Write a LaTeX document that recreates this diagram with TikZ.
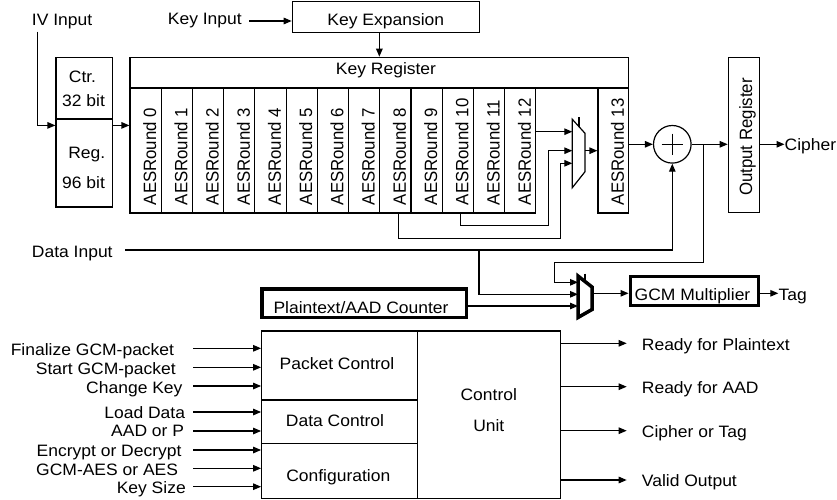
\documentclass[tikz,border=0pt]{standalone}
\usepackage{fontspec}
\setmainfont{Liberation Sans}
\usetikzlibrary{arrows.meta,calc,fit}
\begin{document}
\begin{tikzpicture}[x=1pt,y=-1pt,
  ln/.style={line width=1.2pt},
  arr/.style={line width=1.2pt,-{Triangle[length=8pt,width=6.5pt]}},
  box/.style={draw,line width=1.2pt,inner sep=0pt},
  tbox/.style={draw,line width=3.5pt,inner sep=0pt},
  hid/.style={inner sep=0pt,outer sep=0pt},
  txt/.style={inner sep=0pt,font=\fontsize{16.5}{19}\selectfont,xscale=1.06},
  rtxt/.style={inner sep=0pt,font=\fontsize{16.8}{19}\selectfont,xscale=1.06,rotate=90,anchor=base west}]
\useasboundingbox (0,0) rectangle (837,500);

% ---------- top part ----------
\node[txt,anchor=base west] (ivin) at (31.7,26) {IV Input};
\node[txt,anchor=east] (keyin) at (242,21) {Key Input};
\node[box,fit={(292.3,1.7)(479.3,32.3)}] (kexp) {};
\node[txt,anchor=base] (kexpt) at (385.8,26) {Key Expansion};

\node[box,fit={(56,57.3)(112.3,119)}] (ctr) {};
\node[box,fit={(56,119)(112.3,207)}] (reg) {};
\node[txt,anchor=base] (ctrt) at (82.5,82.3) {Ctr.};
\node[txt,anchor=base] (ctrb) at (83.5,106.7) {32 bit};
\node[txt,anchor=base] (regt) at (86.8,158.3) {Reg.};
\node[txt,anchor=base] (regb) at (83.5,188.3) {96 bit};

\node[box,fit={(130,57.3)(628.7,88)}] (keyreg) {};
\node[txt,anchor=base] (keyregt) at (386,75) {Key Register};

\foreach \i in {0,...,12}{
  \node[box,fit={({130+31.22*\i},88)({130+31.22*(\i+1)},213)}] (r\i) {};
  \node[rtxt] (t\i) at ({130+31.22*(\i+0.5)+10.5},205.3) {AESRound \i};
}
\node[box,fit={(598,88)(628.7,213)}] (r13) {};
\node[rtxt] (t13) at (623.8,205.3) {AESRound 13};

% upper mux
\node[hid,fit={(572.3,119.3)(585,187.7)}] (m1) {};
\draw[ln] (m1.north west) -- ($(m1.north east)+(0,14)$) -- ($(m1.south east)+(0,-16)$) -- (m1.south west) -- cycle;
\draw[ln] ($(m1.north west)+(6.7,-2)$) -- ($(m1.north west)+(6.7,7.4)$);
\coordinate (m1a) at ($(m1.north west)+(0,12.4)$);
\coordinate (m1b) at ($(m1.north west)+(0,31.4)$);
\coordinate (m1c) at ($(m1.north west)+(0,44)$);
\coordinate (m1o) at ($(m1.north east)+(0,31.4)$);

\node[draw,circle,line width=1.2pt,minimum size=37.6pt,inner sep=0pt] (xor) at (672.3,144.3) {};
\draw[line width=1pt] ($(xor.center)+(-10.8,0)$) -- ($(xor.center)+(10.8,0)$);
\draw[line width=1pt] ($(xor.center)+(0,-10.8)$) -- ($(xor.center)+(0,10.8)$);

\node[box,fit={(728.3,57.3)(759.3,212.7)}] (outreg) {};
\node[rtxt,anchor=base] (outregt) at (752,137) {Output Register};
\node[txt,anchor=base west] (cipher) at (784.5,150.7) {Cipher};

% connectors top
\draw[arr] ($(ivin.south west)+(5.5,2)$) |- ($(reg.north west)+(0,7)$);
\draw[arr] ($(reg.north east)+(0,7)$) -- ($(r0.north west)+(0,38)$);
\draw[arr] ($(keyin.east)+(7,0)$) -- (keyin.east -| kexp.west);
\draw[arr] (kexp.south -| keyreg.north) -- (keyreg.north);
\draw[arr] (m1a -| r12.east) -- (m1a);
\draw[arr] ($(r10.south)+(3,0)$) -- ++(0,12) -| ($(m1b)+(-24,0)$) -- (m1b);
\draw[arr] ($(r8.south)+(3,0)$) -- ++(0,24.7) -| ($(m1c)+(-11.6,0)$) -- (m1c);
\draw[arr] (m1o) -- (m1o -| r13.west);
\draw[arr] (xor.west -| r13.east) -- (xor.west);
\draw[arr] (xor.east) -- (xor.east -| outreg.west);
\draw[arr] (xor.east -| outreg.east) -- (xor.east -| cipher.west);

% ---------- middle part ----------
\node[txt,anchor=base west] (datain) at (31.7,257.3) {Data Input};
\coordinate (dstart) at (125,250);
\coordinate (dbr) at (479,250);
\coordinate (cbr) at ($(xor.east)+(12,0)$);

\node[hid,fit={(578,276)(592,317.5)}] (m2) {};
\draw[line width=3.5pt,line join=miter] (m2.north west) -- ($(m2.north east)+(0,11)$) -- ($(m2.south east)+(0,-8)$) -- (m2.south west) -- cycle;
\draw[line width=2pt] ($(m2.north west)+(7,-2.5)$) -- ($(m2.north west)+(7,5)$);
\coordinate (m2a) at ($(m2.north west)+(0,6.3)$);
\coordinate (m2b) at ($(m2.north west)+(0,18.3)$);
\coordinate (m2c) at ($(m2.north west)+(0,30)$);
\coordinate (m2o) at ($(m2.north east)+(0,17.3)$);

\node[tbox,fit={(262,289)(466.5,317.5)}] (cnt) {};
\node[txt,anchor=base] (cntt) at (361,313.3) {Plaintext/AAD Counter};
\node[tbox,fit={(630.3,276.3)(758.7,305.3)}] (gcm) {};
\node[txt,anchor=base] (gcmt) at (692.5,300) {GCM Multiplier};
\node[txt,anchor=base west] (tag) at (778.3,300) {Tag};

\draw[arr] (dstart) -| (xor.south);
\draw[arr] (dbr) |- (m2b);
\draw[arr] (cbr) -- ++(0,118) -| ($(m2a)+(-23.7,0)$) -- (m2a);
\draw[arr] (m2c -| cnt.east) -- (m2c);
\draw[arr] (m2o) -- (m2o -| gcm.west);
\draw[arr] (m2o -| gcm.east) -- (m2o -| tag.west);

% ---------- control unit ----------
\node[box,fit={(261.7,331)(417.5,400)}] (pc) {};
\node[box,fit={(261.7,400)(417.5,443.3)}] (dc) {};
\node[box,fit={(261.7,443.3)(417.5,498.3)}] (cf) {};
\node[box,fit={(417.5,331)(560.7,498.3)}] (cu) {};
\node[txt,anchor=base] (pct) at (337,369.3) {Packet Control};
\node[txt,anchor=base] (dct) at (335,426) {Data Control};
\node[txt,anchor=base] (cft) at (338.3,481.7) {Configuration};
\node[txt,anchor=base] (cut1) at (488.8,400.7) {Control};
\node[txt,anchor=base] (cut2) at (488.8,431) {Unit};

\foreach \ya/\yb/\xe/\t [count=\k] in {348.3/355.7/174.3/Finalize GCM-packet,
   367.3/374.3/176/Start GCM-packet, 386/393.3/182.7/Change Key,
   412/418.3/185.3/Load Data, 431/436.7/184.3/AAD or P,
   450/456.7/181.7/Encrypt or Decrypt, 468.3/475/178.3/GCM-AES or AES,
   486.7/493.3/186/Key Size}{
  \node[txt,anchor=base east] (in\k) at (\xe,\yb) {\t};
  \draw[arr] (193.3,\ya) -- (pc.west |- 193.3,\ya);
}
\foreach \ya/\yb/\t [count=\k] in {343.3/350/Ready for Plaintext,
   386.7/393.3/Ready for AAD, 430.7/437.3/Cipher or Tag, 480/486.7/Valid Output}{
  \node[txt,anchor=base west] (out\k) at (641.7,\yb) {\t};
  \draw[arr] (cu.east |- 0,\ya) -- ($(out\k.west |- 0,\ya)+(-15,0)$);
}
\end{tikzpicture}
\end{document}
